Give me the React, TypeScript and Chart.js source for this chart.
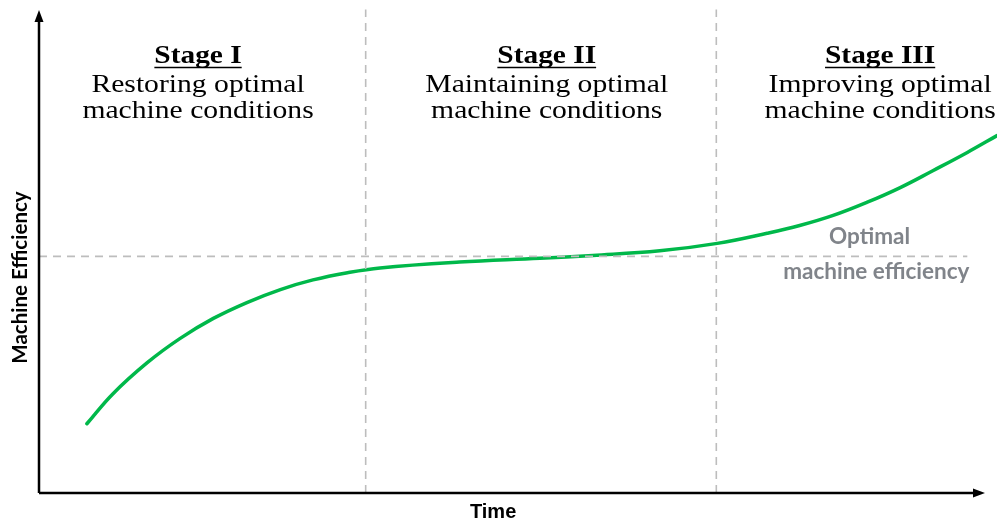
import React, { useEffect, useRef } from 'react';
import { Chart, registerables } from 'chart.js';
Chart.register(...registerables);

// Time (0..100) and machine efficiency (0..100)
const timePoints = [5.0, 7.7, 11.3, 14.7, 18.2, 21.7, 25.2, 28.6, 32.2, 35.6, 43.9, 52.3, 57.8, 64.8, 70.8, 76.0, 79.4, 82.9, 86.4, 89.9, 93.3, 96.9, 100];
const efficiency = [14.4, 20.6, 27.1, 32.1, 36.3, 39.6, 42.3, 44.3, 45.8, 46.8, 48.0, 48.8, 49.4, 50.35, 51.9, 54.0, 55.6, 57.7, 60.4, 63.5, 67.0, 70.8, 74.3];
const optimalLevel = 49.2;
const optimalSpan = [0, 96.9];
const stageBoundaries = [34.1, 70.7];
const stageTitles = ['Stage I', 'Stage II', 'Stage III'];
const stageLine1 = ['Restoring optimal', 'Maintaining optimal', 'Improving optimal'];
const stageLine2 = ['machine conditions', 'machine conditions', 'machine conditions'];
const stageCenters = [16.6, 53.0, 87.8];
const optimalLabel = ['Optimal', 'machine efficiency'];
const xTitle = 'Time';
const yTitle = 'Machine Efficiency';

function stretchText(ctx: CanvasRenderingContext2D, text: string, x: number, y: number, sx: number) {
  ctx.save();
  ctx.translate(x, y);
  ctx.scale(sx, 1);
  ctx.fillText(text, 0, 0);
  ctx.restore();
}

const decorPlugin = {
  id: 'decor',
  afterDatasetsDraw(chart: any) {
    const { ctx, chartArea, scales } = chart;
    const xs = scales.x;
    const ys = scales.y;
    const left = chartArea.left;
    const bottom = chartArea.bottom;
    ctx.save();
    // axes
    ctx.strokeStyle = '#000';
    ctx.fillStyle = '#000';
    ctx.lineWidth = 2.5;
    ctx.beginPath();
    ctx.moveTo(left, bottom);
    ctx.lineTo(left, chartArea.top + 6);
    ctx.moveTo(left, bottom);
    ctx.lineTo(chartArea.right - 18, bottom);
    ctx.stroke();
    // arrowheads
    ctx.beginPath();
    ctx.moveTo(left, chartArea.top - 2);
    ctx.lineTo(left - 4.5, chartArea.top + 10);
    ctx.lineTo(left + 4.5, chartArea.top + 10);
    ctx.closePath();
    ctx.fill();
    ctx.beginPath();
    ctx.moveTo(chartArea.right - 12, bottom);
    ctx.lineTo(chartArea.right - 24, bottom - 4.5);
    ctx.lineTo(chartArea.right - 24, bottom + 4.5);
    ctx.closePath();
    ctx.fill();

    // stage labels
    ctx.textAlign = 'center';
    ctx.textBaseline = 'alphabetic';
    const yTop = chartArea.top;
    for (let i = 0; i < stageTitles.length; i++) {
      const cx = xs.getPixelForValue(stageCenters[i]);
      ctx.fillStyle = '#000';
      ctx.font = 'bold 26px "Liberation Serif"';
      const sx = 1.13;
      stretchText(ctx, stageTitles[i], cx, yTop + 51, sx);
      const w = ctx.measureText(stageTitles[i]).width * sx;
      ctx.lineWidth = 1.6;
      ctx.beginPath();
      ctx.moveTo(cx - w / 2, yTop + 55.5);
      ctx.lineTo(cx + w / 2, yTop + 55.5);
      ctx.stroke();
      ctx.font = '26px "Liberation Serif"';
      stretchText(ctx, stageLine1[i], cx, yTop + 80, 1.14);
      stretchText(ctx, stageLine2[i], cx, yTop + 106, 1.14);
    }

    // optimal label
    ctx.fillStyle = '#80848a';
    ctx.font = 'bold 22.5px Lato';
    const oy = ys.getPixelForValue(optimalLevel);
    stretchText(ctx, optimalLabel[0], xs.getPixelForValue(86.7), oy - 12, 1.0);
    stretchText(ctx, optimalLabel[1], xs.getPixelForValue(87.4), oy + 23, 1.0);

    // axis titles
    ctx.fillStyle = '#000';
    ctx.font = 'bold 20px "Liberation Sans Narrow", "Liberation Sans"';
    stretchText(ctx, xTitle, xs.getPixelForValue(47.4), bottom + 25, 1.0);
    ctx.font = 'bold 20.5px Lato';
    ctx.save();
    ctx.translate(left - 12, ys.getPixelForValue(44.8));
    ctx.rotate(-Math.PI / 2);
    ctx.fillText(yTitle, 0, 0);
    ctx.restore();
    ctx.restore();
  },
};

export default function App() {
  const ref = useRef<HTMLCanvasElement>(null);
  useEffect(() => {
    if (!ref.current) return;
    const dashed = {
      borderColor: '#bdbdbd',
      borderWidth: 1.6,
      borderDash: [8, 6],
      pointRadius: 0,
      fill: false,
      tension: 0,
    };
    const chart = new Chart(ref.current, {
      type: 'line',
      data: {
        datasets: [
          ...stageBoundaries.map((b) => ({
            ...dashed,
            data: [{ x: b, y: 0 }, { x: b, y: 100.5 }],
          })),
          {
            ...dashed,
            data: optimalSpan.map((x) => ({ x, y: optimalLevel })),
          },
          {
            data: timePoints.map((x, i) => ({ x, y: efficiency[i] })),
            borderColor: '#00b84a',
            borderWidth: 3.5,
            pointRadius: 0,
            fill: false,
            tension: 0.4,
            borderCapStyle: 'round',
          },
        ],
      } as any,
      options: {
        animation: false,
        responsive: false,
        maintainAspectRatio: false,
        layout: { padding: { left: 39, right: 0, top: 12, bottom: 32 } },
        plugins: { legend: { display: false }, tooltip: { enabled: false } },
        scales: {
          x: { type: 'linear', min: 0, max: 100, display: false },
          y: { type: 'linear', min: 0, max: 100, display: false },
        },
        clip: false as any,
      } as any,
      plugins: [decorPlugin],
    });
    return () => chart.destroy();
  }, []);
  return (
    <div style={{ position: 'absolute', left: 0, top: 0, width: 997, height: 525, background: '#fff' }}>
      <canvas ref={ref} width={997} height={525} style={{ display: 'block' }} />
    </div>
  );
}
